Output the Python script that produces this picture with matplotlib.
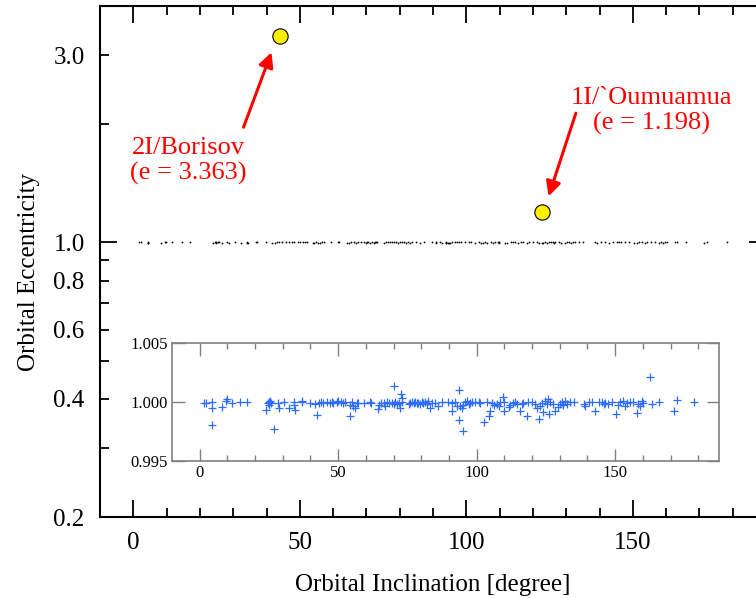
import matplotlib
matplotlib.use("Agg")
import matplotlib.pyplot as plt
import numpy as np

plt.rcParams['font.family'] = ['Liberation Serif', 'DejaVu Serif']

# hyperbolic / near-parabolic small bodies: inclination [deg] and eccentricity
incl = [1.7, 2.2, 4.4, 4.4, 4.4, 8.2, 9.5, 9.9, 11.6, 14.6, 17.1,
        24.0, 24.5, 24.9, 25.4, 25.8, 24.9, 26.7, 28.2, 28.7, 30.5, 32.3, 34.1, 34.1, 34.4, 36.9, 37.1, 39.8,
        41.7, 42.5, 43.1, 43.9, 44.7, 45.9, 46.9, 47.7, 48.3, 49.5, 50.1, 51.0, 51.6, 52.3,
        54.1, 54.3, 54.9, 55.5, 56.1, 56.7, 57.3, 59.4, 61.6, 61.9,
        64.3, 64.8, 65.5, 66.4, 67.0, 67.6, 68.4, 69.4, 70.0, 70.3, 70.6, 71.2, 71.8, 72.4, 72.7, 73.0, 73.2,
        75.4, 76.0, 76.6, 77.2, 77.8, 78.4, 79.0, 79.6, 80.2, 80.8, 81.4, 82.0, 82.6, 83.2, 83.8, 85.0, 86.2, 87.4,
        89.8, 91.0, 91.0, 92.2, 92.8, 93.8, 93.8, 94.0, 94.6, 94.9, 95.2, 95.8, 96.5, 97.1, 97.7, 98.3, 99.5, 100.7, 101.3,
        102.7, 103.9, 104.3, 104.9, 105.5, 106.1, 107.3, 107.9, 108.5, 109.4, 109.7, 109.7,
        111.5, 112.1, 113.3, 113.9, 114.7, 115.5, 116.3, 116.9, 118.1, 118.7, 119.9, 121.1, 121.7, 122.6, 122.9, 123.5,
        124.1, 124.7, 125.3, 125.9, 126.2, 126.5, 127.7, 128.3, 129.5, 130.1, 130.7, 131.3, 131.9, 132.6, 133.8, 135.0,
        138.6, 139.2, 140.4, 141.6, 142.8, 144.0, 145.2, 145.8, 146.4, 147.6, 148.8, 150.4, 151.2, 151.8, 152.8,
        153.6, 154.2, 155.4, 156.6, 157.8, 158.4, 159.0, 159.6, 160.2, 162.6, 163.2, 166.0, 171.3, 172.3, 178.3]
ecc = [0.99989, 0.99994, 1.00000, 0.99945, 0.99807, 0.99957, 1.00009, 1.00023, 0.99989, 1.00003, 1.00000,
       0.99934, 0.99989, 1.00000, 1.00009, 0.99994, 0.99974, 0.99773, 0.99989, 0.99945, 1.00000, 0.99951, 1.00000, 0.99974, 0.99928, 1.00000, 1.00009, 0.99989,
       0.99980, 0.99894, 0.99994, 1.00000, 0.99989, 1.00000, 0.99989, 1.00000, 0.99994, 1.00000, 1.00009, 1.00000, 0.99989, 1.00000,
       0.99974, 0.99885, 1.00000, 0.99966, 0.99945, 0.99989, 0.99994, 0.99989, 1.00000, 0.99989,
       0.99937, 0.99974, 0.99989, 0.99994, 0.99966, 1.00000, 0.99989, 0.99994, 0.99980, 1.00138, 1.00000, 0.99980, 0.99989, 0.99945, 1.00066, 1.00032, 1.00000,
       0.99980, 0.99989, 1.00000, 0.99994, 1.00000, 0.99989, 0.99994, 0.99980, 1.00000, 0.99989, 1.00000, 0.99980, 1.00009, 0.99951, 0.99989, 0.99994, 0.99966, 1.00000,
       0.99997, 0.99991, 0.99925, 0.99997, 0.99968, 1.00098, 0.99845, 0.99968, 0.99948, 0.99753, 0.99977, 0.99997, 1.00011, 0.99983, 0.99991, 0.99997, 0.99997, 0.99997, 0.99991,
       0.99833, 0.99997, 0.99882, 0.99925, 0.99991, 0.99977, 0.99983, 0.99968, 0.99997, 1.00040, 0.99925, 0.99997,
       0.99960, 0.99974, 0.99991, 1.00003, 0.99983, 0.99920, 0.99983, 0.99991, 0.99882, 0.99997, 1.00003, 0.99983, 0.99948, 0.99853, 0.99968, 0.99991,
       0.99917, 1.00011, 0.99983, 1.00026, 0.99897, 0.99997, 0.99983, 0.99920, 0.99954, 0.99983, 0.99997, 0.99977, 1.00011, 0.99983, 0.99997, 0.99997,
       0.99983, 0.99968, 0.99997, 0.99997, 0.99920, 0.99997, 1.00003, 0.99983, 0.99991, 0.99983, 0.99997, 0.99902, 0.99977, 0.99997, 1.00011,
       0.99968, 0.99991, 0.99997, 1.00003, 0.99911, 0.99983, 0.99968, 1.00011, 0.99991, 1.00213, 0.99983, 1.00003, 0.99925, 1.00017, 1.00003]

# interstellar objects
is_names = ["2I/Borisov\n(e = 3.363)", "1I/`Oumuamua\n(e = 1.198)"]
is_incl = [44.05, 122.74]
is_ecc = [3.363, 1.198]

W, H = 756, 598
fig = plt.figure(figsize=(W / 100, H / 100), dpi=100)

# main axes (right spine sits just outside the picture)
ax = fig.add_axes([100 / W, 1 - 517 / H, 666 / W, 511 / H])
ax.plot(incl, ecc, 'o', color='k', ms=1.3, mew=0)
ax.plot(is_incl, is_ecc, 'o', color='#ffee00', mec='k', mew=0.8, ms=11, zorder=5)
ax.set_yscale('log')
ax.set_xlim(-10, 190)
ax.set_ylim(0.2, 4.0)

ax.set_xticks([0, 50, 100, 150])
ax.set_xticks(np.arange(10, 190, 10), minor=True)
ax.set_yticks([1.0], ['1.0'])
ax.set_yticks([0.2, 0.3, 0.4, 0.5, 0.6, 0.7, 0.8, 0.9, 2.0, 3.0],
              ['0.2', '', '0.4', '', '0.6', '', '0.8', '', '', '3.0'], minor=True)
ax.tick_params(which='both', direction='in', top=True, right=True, width=1.3,
               labelsize=18, pad=11)
ax.tick_params(which='major', length=12)
ax.tick_params(which='minor', length=6.5)
for s in ax.spines.values():
    s.set_linewidth(1.5)

ax.set_xlabel('Orbital Inclination [degree]', fontsize=18, labelpad=14)
ax.set_ylabel('Orbital Eccentricity', fontsize=18)
ax.yaxis.set_label_coords(-0.09, 0.48)

# annotations
arrow = dict(arrowstyle='-|>', color='red', lw=2.2, mutation_scale=22, shrinkA=0, shrinkB=0)
ax.annotate('', xy=(41.5, 3.05), xytext=(33.1, 1.965), arrowprops=arrow)
ax.annotate('', xy=(124.7, 1.31), xytext=(132.9, 2.134), arrowprops=arrow)
ax.text(16.5, 1.61, is_names[0], color='red', fontsize=19, ha='center', va='center',
        linespacing=1.15)
ax.text(155.7, 2.16, is_names[1], color='red', fontsize=19, ha='center', va='center',
        linespacing=1.15)

# inset zoom around e = 1
axi = fig.add_axes([172 / W, 1 - 461 / H, 547 / W, 118 / H])
axi.plot(incl, ecc, '+', color='#2e6bff', ms=5.5, mew=0.9)
axi.set_xlim(-10, 187.5)
axi.set_ylim(0.995, 1.005)
axi.set_xticks([0, 50, 100, 150])
axi.set_xticks(np.arange(10, 190, 10), minor=True)
axi.set_yticks([0.995, 1.000, 1.005], ['0.995', '1.000', '1.005'])
gray = '#808080'
axi.tick_params(which='both', direction='in', top=True, right=True, color=gray,
                labelsize=12, pad=3, width=1)
axi.tick_params(which='major', length=9)
axi.tick_params(which='minor', length=4.5)
for s in axi.spines.values():
    s.set_color(gray)
    s.set_linewidth(1.2)

fig.savefig('out.png', dpi=100)
